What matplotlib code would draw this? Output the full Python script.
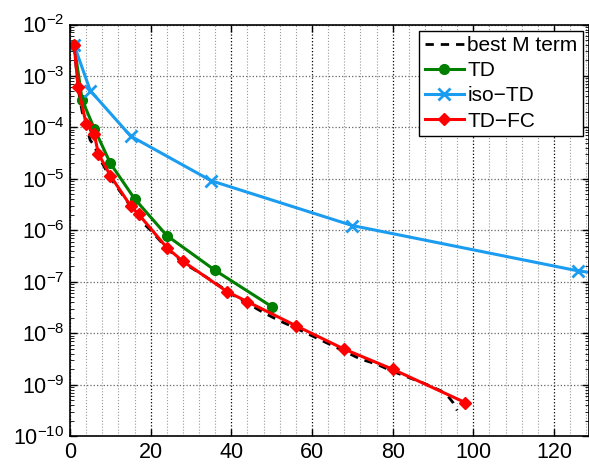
import numpy as np
import matplotlib
matplotlib.use("Agg")
import matplotlib.pyplot as plt
from matplotlib.ticker import MultipleLocator, LogLocator, NullFormatter

plt.rcParams['font.family'] = ['Liberation Sans', 'DejaVu Sans']
plt.rcParams['mathtext.fontset'] = 'custom'
plt.rcParams['mathtext.rm'] = 'Liberation Sans'
plt.rcParams['mathtext.it'] = 'Liberation Sans'

# best M term (dashed)
best_x = [1, 2, 3, 4, 5, 6, 7, 8, 10, 12, 14, 16, 18, 20, 24, 28, 32, 36, 40,
          44, 48, 52, 56, 60, 64, 68, 72, 76, 80, 84, 88, 92, 94, 95, 96]
best_log = [-2.40, -3.25, -3.70, -3.98, -4.25, -4.35, -4.55, -4.70, -4.98, -5.20,
            -5.42, -5.66, -5.85, -6.00, -6.35, -6.63, -6.82, -7.02, -7.24, -7.42,
            -7.60, -7.76, -7.90, -8.05, -8.20, -8.35, -8.50, -8.60, -8.74, -8.86,
            -8.98, -9.12, -9.25, -9.35, -9.50]

# TD
td_x = [1, 3, 6, 10, 16, 24, 36, 50]
td_y = [4.0e-3, 3.4e-4, 9.5e-5, 2.0e-5, 4.1e-6, 7.9e-7, 1.66e-7, 3.3e-8]

# iso-TD
iso_x = [1, 5, 15, 35, 70, 126, 210]
iso_y = [4.0e-3, 5.2e-4, 6.8e-5, 9.2e-6, 1.24e-6, 1.63e-7, 2.2e-8]

# TD-FC
fc_x = [1, 2, 4, 6, 7, 10, 15, 17, 24, 28, 39, 44, 56, 68, 80, 98]
fc_y = [4.0e-3, 6.0e-4, 1.15e-4, 7.5e-5, 3.1e-5, 1.15e-5, 3.0e-6, 2.05e-6,
        4.6e-7, 2.5e-7, 6.4e-8, 4.1e-8, 1.4e-8, 4.9e-9, 2.0e-9, 4.5e-10]

fig = plt.figure(figsize=(5.89, 4.67), dpi=100)
ax = fig.add_axes([0.119, 0.066, 0.881, 0.8815])

ax.semilogy(best_x, 10.0 ** np.array(best_log), 'k--', lw=2.0, dashes=(3, 2.5),
            label='best M term')
ax.semilogy(td_x, td_y, '-o', color='#007f00', lw=2.2, ms=7, label='TD')
ax.semilogy(iso_x, iso_y, '-x', color='#1a9cf0', lw=2.2, ms=8, mew=2, label='iso\u2212TD')
ax.semilogy(fc_x, fc_y, '-D', color='#ff0000', lw=2.2, ms=6.5, label='TD\u2212FC')

ax.set_xlim(0, 128.7)
ax.set_ylim(1e-10, 1e-2)
ax.xaxis.set_major_locator(MultipleLocator(20))
ax.xaxis.set_minor_locator(MultipleLocator(4))
ax.yaxis.set_major_locator(LogLocator(base=10, numticks=20))
ax.yaxis.set_minor_locator(LogLocator(base=10, subs=np.arange(2, 10), numticks=20))
ax.yaxis.set_minor_formatter(NullFormatter())

ax.tick_params(which='both', direction='in', top=True, right=True, labelsize=15.5)
ax.tick_params(which='major', length=5, width=1)
ax.tick_params(which='minor', length=3)
ax.tick_params(axis='x', which='minor', length=0)
ax.tick_params(axis='x', pad=4)
ax.tick_params(axis='y', pad=4)
for s in ax.spines.values():
    s.set_linewidth(1.2)

ax.grid(which='major', axis='x', ls=':', color='k', lw=0.9)
ax.grid(which='major', axis='y', ls=':', color='0.4', lw=0.9)
ax.grid(which='minor', axis='x', ls=':', color='0.6', lw=0.8)

leg = ax.legend(loc='upper right', fontsize=15, handlelength=1.9, handletextpad=0.15,
                borderpad=0.25, labelspacing=0.3, fancybox=False, framealpha=1,
                edgecolor='k', borderaxespad=0.3)
leg.get_frame().set_linewidth(1.0)

fig.savefig('out.png', dpi=100)
